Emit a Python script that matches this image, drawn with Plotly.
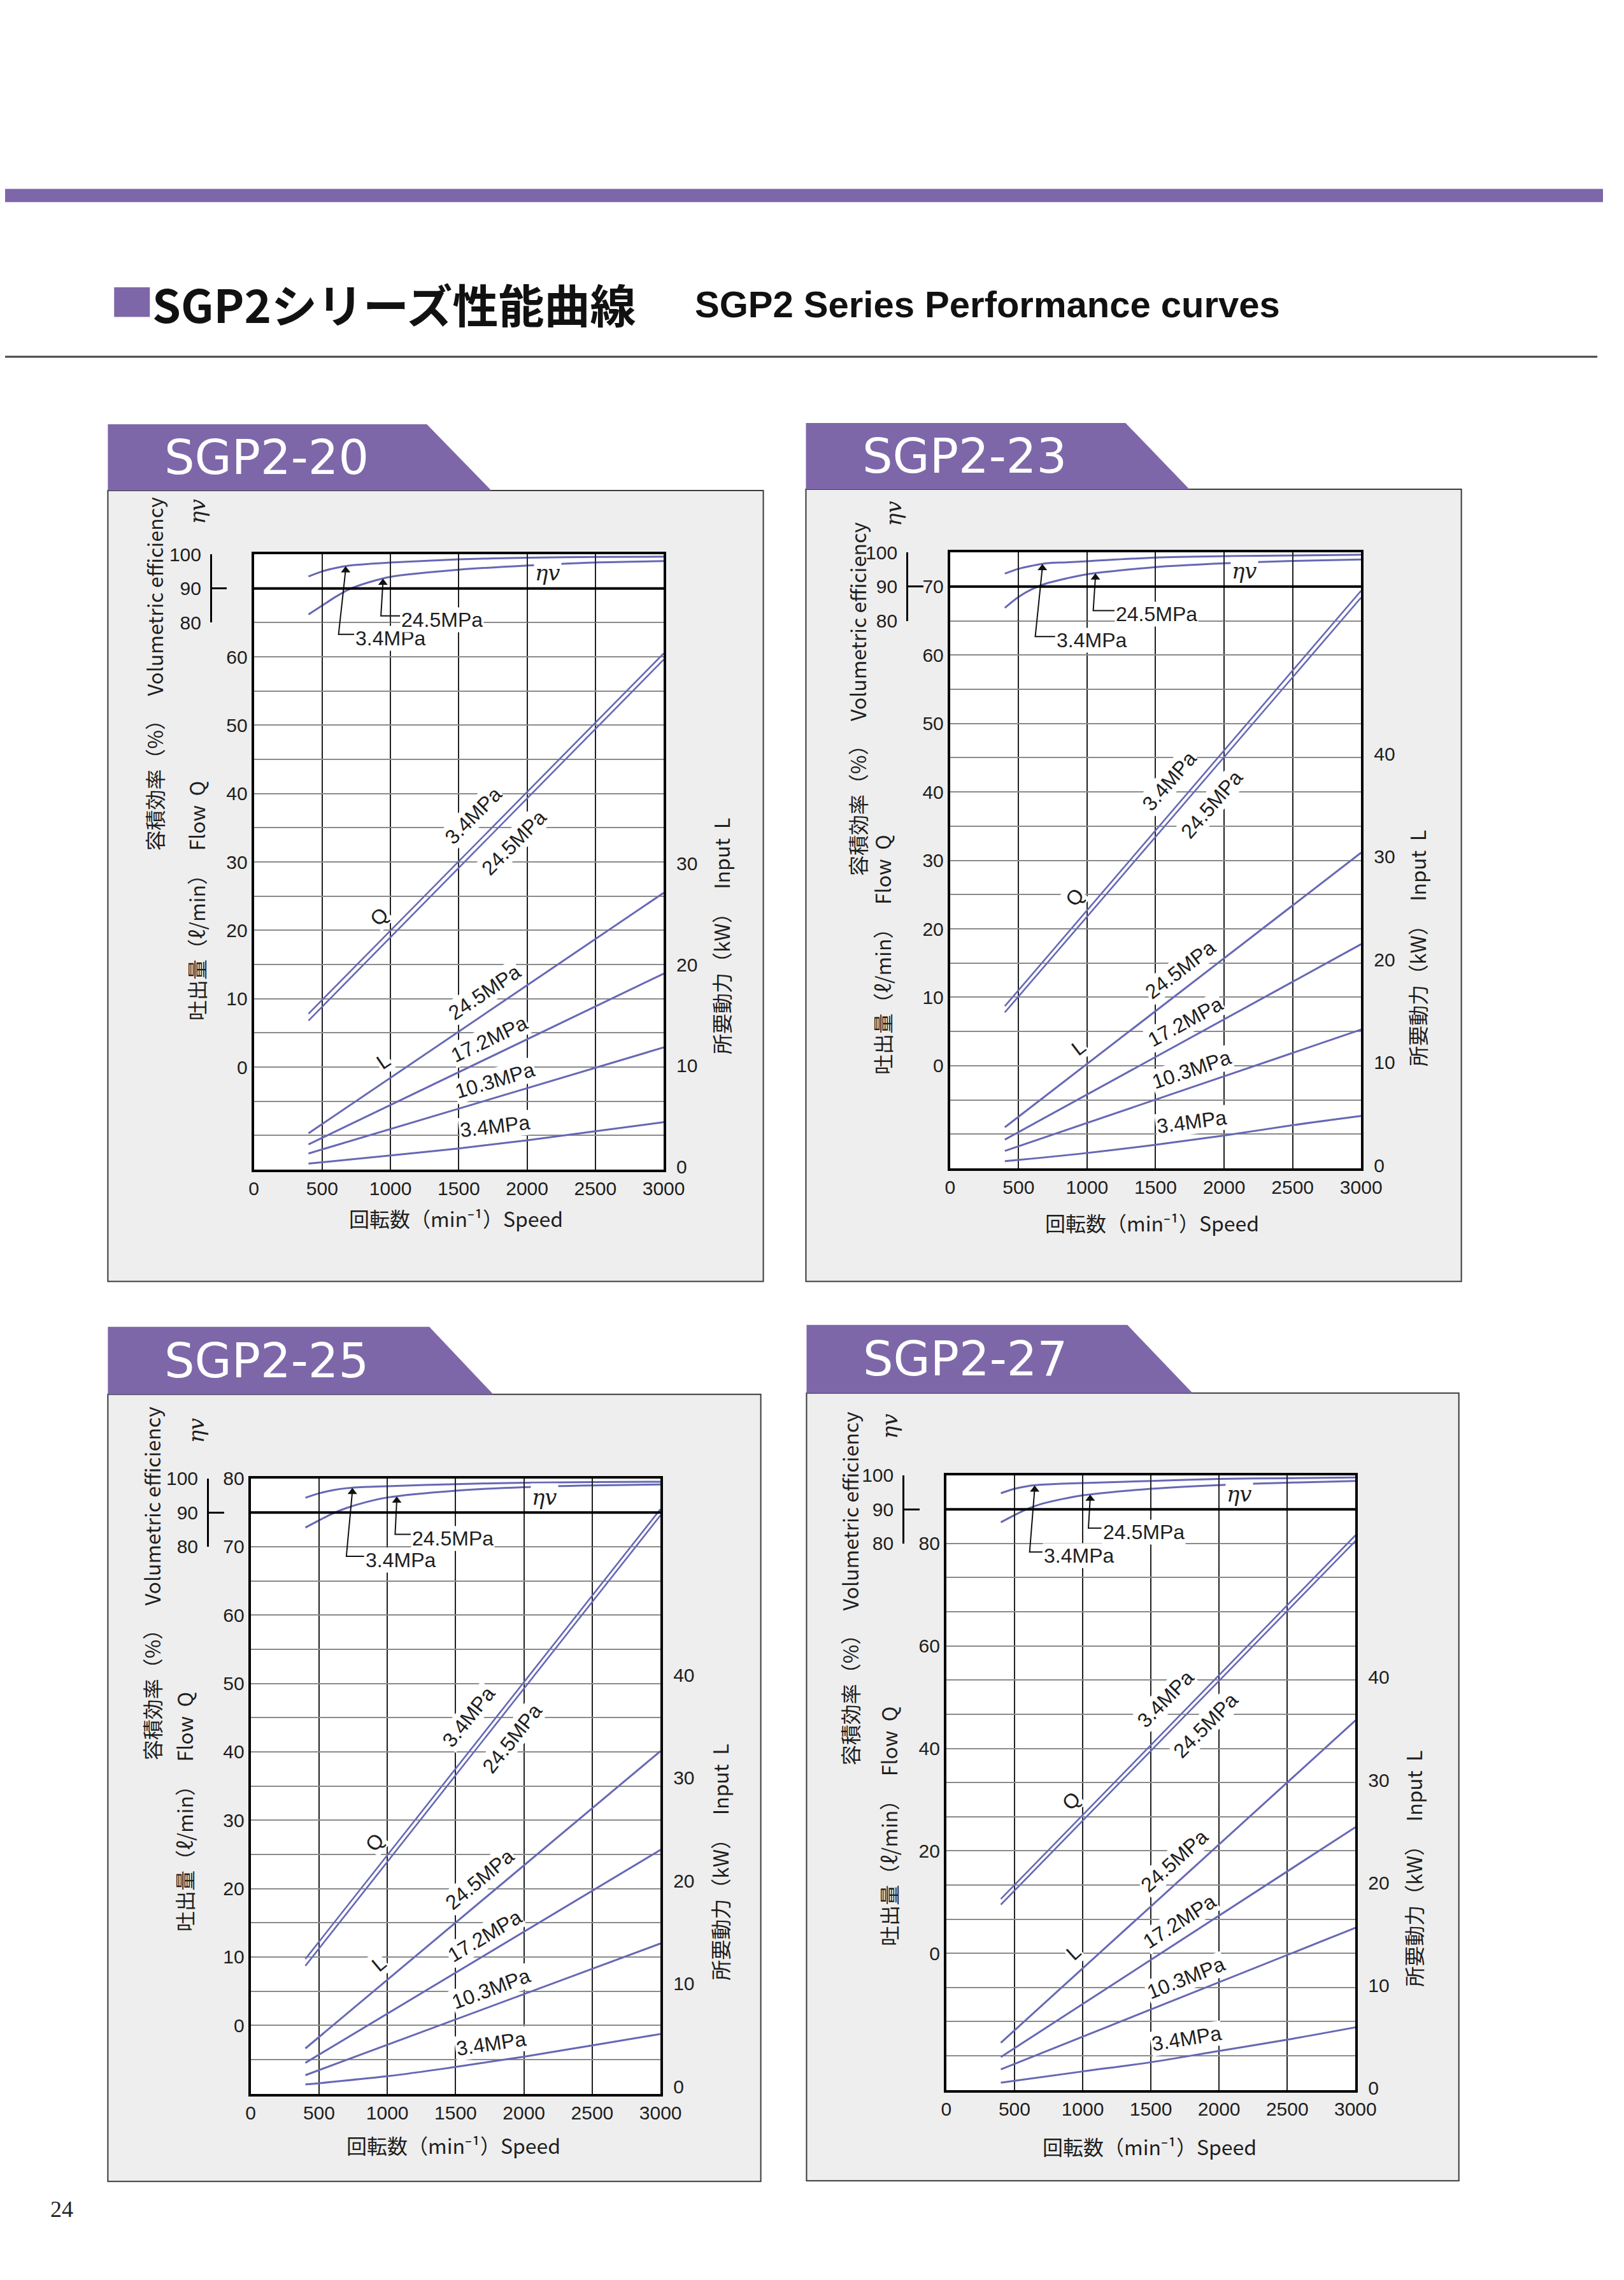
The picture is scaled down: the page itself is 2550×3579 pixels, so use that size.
import numpy as np
import plotly.graph_objects as go

W, H = 2550, 3579

# ---------------------------------------------------------------- data
MODELS = ["SGP2-20", "SGP2-23", "SGP2-25", "SGP2-27"]
SPEED_TICKS = [0, 500, 1000, 1500, 2000, 2500, 3000]
SPEED_LINE = [400, 3000]
SPEED_CURVE = [400, 1000, 1500, 2000, 2500, 3000]
SPEED_EFF = [400, 500, 600, 700, 850, 1000, 1500, 2000, 2500, 3000]
EFF_TICKS = [80, 90, 100]

# SGP2-20
flow_20_34 = [7.8, 60.5]
flow_20_245 = [6.8, 59.6]
power_20_245 = [3.3, 27.1]
power_20_172 = [2.2, 19.1]
power_20_103 = [1.3, 11.8]
power_20_34 = [0.3, 1.1, 1.8, 2.6, 3.5, 4.4]
eff_20_34 = [93.5, 95.0, 96.0, 96.7, 97.2, 97.6, 98.5, 99.0, 99.2, 99.3]
eff_20_245 = [82.4, 85.0, 87.6, 89.8, 91.9, 93.4, 95.5, 96.7, 97.6, 98.0]
flow_ticks_20 = [0, 10, 20, 30, 40, 50, 60]
power_ticks_20 = [0, 10, 20, 30]

# SGP2-23
flow_23_34 = [8.7, 69.4]
flow_23_245 = [7.8, 68.4]
power_23_245 = [3.7, 30.4]
power_23_172 = [2.5, 21.5]
power_23_103 = [1.4, 13.2]
power_23_34 = [0.4, 1.2, 2.0, 2.9, 3.9, 4.8]
eff_23_34 = [93.8, 95.2, 96.1, 96.8, 97.1, 97.4, 98.5, 98.9, 99.1, 99.3]
eff_23_245 = [83.8, 87.0, 89.3, 90.9, 92.4, 93.6, 95.7, 96.8, 97.5, 97.9]
flow_ticks_23 = [0, 10, 20, 30, 40, 50, 60, 70]
power_ticks_23 = [0, 10, 20, 30, 40]

# SGP2-25
flow_25_34 = [9.7, 75.5]
flow_25_245 = [8.7, 74.6]
power_25_245 = [3.7, 32.6]
power_25_172 = [2.3, 23.0]
power_25_103 = [1.1, 13.9]
power_25_34 = [0.2, 1.0, 1.9, 2.9, 4.0, 5.1]
eff_25_34 = [94.3, 95.6, 96.5, 97.1, 97.5, 97.7, 98.3, 98.7, 98.9, 99.0]
eff_25_245 = [85.6, 87.7, 89.7, 91.3, 93.1, 94.4, 96.4, 97.4, 97.9, 98.2]
flow_ticks_25 = [0, 10, 20, 30, 40, 50, 60, 70, 80]
power_ticks_25 = [0, 10, 20, 30, 40]

# SGP2-27
flow_27_34 = [10.6, 81.6]
flow_27_245 = [9.5, 80.5]
power_27_245 = [4.4, 35.8]
power_27_172 = [3.0, 25.4]
power_27_103 = [1.8, 15.6]
power_27_34 = [0.5, 1.6, 2.5, 3.6, 4.7, 5.9]
eff_27_34 = [94.7, 96.0, 96.8, 97.2, 97.5, 97.7, 98.3, 98.9, 99.1, 99.3]
eff_27_245 = [86.2, 88.3, 90.2, 91.6, 93.0, 94.1, 96.0, 97.1, 97.8, 98.3]
flow_ticks_27 = [0, 20, 40, 60, 80]
power_ticks_27 = [0, 10, 20, 30, 40]

DATA = [
    dict(flow34=flow_20_34, flow245=flow_20_245, p245=power_20_245, p172=power_20_172,
         p103=power_20_103, p34=power_20_34, e34=eff_20_34, e245=eff_20_245,
         fticks=flow_ticks_20, pticks=power_ticks_20),
    dict(flow34=flow_23_34, flow245=flow_23_245, p245=power_23_245, p172=power_23_172,
         p103=power_23_103, p34=power_23_34, e34=eff_23_34, e245=eff_23_245,
         fticks=flow_ticks_23, pticks=power_ticks_23),
    dict(flow34=flow_25_34, flow245=flow_25_245, p245=power_25_245, p172=power_25_172,
         p103=power_25_103, p34=power_25_34, e34=eff_25_34, e245=eff_25_245,
         fticks=flow_ticks_25, pticks=power_ticks_25),
    dict(flow34=flow_27_34, flow245=flow_27_245, p245=power_27_245, p172=power_27_172,
         p103=power_27_103, p34=power_27_34, e34=eff_27_34, e245=eff_27_245,
         fticks=flow_ticks_27, pticks=power_ticks_27),
]

# ---------------------------------------------------------------- layout config (pixels)
PANELS = [
    dict(box=(164, 760, 1210, 2013), tab=(164, 655, 673, 776), plot=(397, 861, 1051, 1836),
         frange=(-15, 75), fstep=5, prange=(-0.3, 60.6),
         colA=(238, 1050), colB=(305, 1410), eta=(307, 793), rt=(1143, 1466), xt=(720, 1913),
         ar34=(672, 620, 76.6, 735), ar245=(945, 930, 82.0, 1070)),
    dict(box=(1278, 758, 2324, 2013), tab=(1278, 653, 1788, 1890), plot=(1508, 858, 2164, 1834),
         frange=(-15, 75), fstep=5, prange=(-0.3, 59.6),
         colA=(1360, 1090), colB=(1400, 1495), eta=(1417, 796), rt=(2254, 1485), xt=(1830, 1920),
         ar34=(674, 622, 75.4, 767), ar245=(1061, 1045, 83.0, 1200)),
    dict(box=(164, 2192, 1206, 3439), tab=(164, 2085, 677, 779), plot=(392, 2325, 1046, 3300),
         frange=(-10, 80), fstep=5, prange=(-0.7, 59.1),
         colA=(234, 2491), colB=(285, 2853), eta=(305, 2249), rt=(1140, 2933), xt=(716, 3381),
         ar34=(744, 700, 77.2, 830), ar245=(1069, 1057, 83.6, 1171)),
    dict(box=(1279, 2190, 2320, 3438), tab=(1279, 2082, 1791, 1895), plot=(1502, 2320, 2155, 3294),
         frange=(-80 / 3, 280 / 3), fstep=20 / 3, prange=(-0.2, 59.7),
         colA=(1348, 2499), colB=(1410, 2876), eta=(1412, 2242), rt=(2247, 2943), xt=(1826, 3383),
         ar34=(648, 611, 77.5, 705), ar245=(1055, 1042, 84.5, 1138)),
]
EFF_RANGE = (-80, 100)

PURPLE = "#7d67a9"
CURVE = "#6668b4"
INK = "#1e1e1e"
NUM_FAMILY = "Liberation Sans Narrow, Liberation Sans, Arial, sans-serif"
TICK_FONT = dict(family=NUM_FAMILY, size=30, color=INK)
LABEL_FONT = dict(family=NUM_FAMILY, size=32, color=INK)
CJK_FONT = dict(family="Noto Sans CJK JP, Noto Sans, sans-serif", size=32, color=INK)
ETA_FONT = dict(family="DejaVu Serif, Liberation Serif, serif", size=34, color=INK, style="italic")


def fx(px):
    return px / W


def fy(py):
    return 1 - py / H


def aref(kind, n):
    return kind if n == 1 else f"{kind}{n}"


def aname(kind, n):
    return f"{kind}axis" if n == 1 else f"{kind}axis{n}"


fig = go.Figure()
lay = {}
annotations = []
shapes = []

# ---------------------------------------------------------------- page header
shapes.append(dict(type="rect", xref="paper", yref="paper", x0=0, x1=1, y0=fy(303), y1=fy(282),
                   fillcolor=PURPLE, line=dict(width=0), layer="below"))
shapes.append(dict(type="rect", xref="paper", yref="paper", x0=fx(174), x1=fx(231), y0=fy(485), y1=fy(438),
                   fillcolor=PURPLE, line=dict(width=0), layer="below"))
shapes.append(dict(type="line", xref="paper", yref="paper", x0=0, x1=fx(2541), y0=fy(548), y1=fy(548),
                   line=dict(color="#444", width=3), layer="below"))
annotations.append(dict(text="SGP2シリーズ性能曲線", xref="paper", yref="paper", x=fx(233), y=fy(463),
                        xanchor="left", yanchor="middle", showarrow=False,
                        font=dict(family="Noto Sans CJK JP, sans-serif", size=72, color="#111",
                                  weight="bold")))
annotations.append(dict(text="SGP2 Series Performance curves", xref="paper", yref="paper",
                        x=fx(1099), y=fy(465), xanchor="left", yanchor="middle", showarrow=False,
                        font=dict(family="Liberation Sans, Arial, sans-serif", size=58, color="#111",
                                  weight="bold")))
annotations.append(dict(text="24", xref="paper", yref="paper", x=fx(90), y=fy(3483), xanchor="center",
                        yanchor="middle", showarrow=False,
                        font=dict(family="Liberation Serif, DejaVu Serif, serif", size=36, color="#222")))


def line_label(text, xr, yr, speeds, values, rpm, dist, ppx, ppy, font=LABEL_FONT):
    y = float(np.interp(rpm, speeds, values))
    y1 = float(np.interp(rpm + 100, speeds, values))
    y0 = float(np.interp(rpm - 100, speeds, values))
    th = np.arctan2((y1 - y0) * ppy, 200 * ppx)
    return dict(text=text, x=rpm, y=y, xref=xr, yref=yr, showarrow=False,
                textangle=-float(np.degrees(th)), xanchor="center", yanchor="middle",
                xshift=-float(np.sin(th)) * dist, yshift=float(np.cos(th)) * dist,
                font=font, bgcolor="white", borderpad=1)


for k, (model, d, P) in enumerate(zip(MODELS, DATA, PANELS)):
    xn = k + 1
    yfn, ypn, yen, ybn = 4 * k + 1, 4 * k + 2, 4 * k + 3, 4 * k + 4
    xr, yfr, ypr, yer, ybr = aref("x", xn), aref("y", yfn), aref("y", ypn), aref("y", yen), aref("y", ybn)
    pl, pt, pr, pb = P["plot"]
    bl, bt, br, bb = P["box"]
    tl, tt, ttr, tbr = P["tab"]

    # panel background, tab and white plotting area
    shapes.append(dict(type="rect", xref="paper", yref="paper", x0=fx(bl), x1=fx(br), y0=fy(bb), y1=fy(bt),
                       fillcolor="#eeeeee", line=dict(color="#3a3a3a", width=2), layer="below"))
    shapes.append(dict(type="path", xref="paper", yref="paper",
                       path=f"M {fx(tl)},{fy(tt)} L {fx(ttr)},{fy(tt)} L {fx(tbr)},{fy(bt)} L {fx(tl)},{fy(bt)} Z",
                       fillcolor=PURPLE, line=dict(width=0), layer="below"))
    shapes.append(dict(type="rect", xref="paper", yref="paper", x0=fx(pl), x1=fx(pr), y0=fy(pb), y1=fy(pt),
                       fillcolor="white", line=dict(width=0), layer="below"))
    annotations.append(dict(text=model, xref="paper", yref="paper", x=fx(tl + 88), y=fy((tt + bt) / 2),
                            xanchor="left", yanchor="middle", showarrow=False,
                            font=dict(family="DejaVu Sans, sans-serif", size=75, color="white")))

    # axes
    f0, f1 = P["frange"]
    grid = []
    v = f0 + P["fstep"]
    while v < f1 - 1e-6:
        grid.append(round(v, 4))
        v += P["fstep"]
    labels = {round(t, 4): str(t) for t in d["fticks"]}
    tickvals = sorted(set(grid) | set(labels))
    ticktext = [labels.get(t, "") for t in tickvals]

    lay[aname("x", xn)] = dict(domain=[fx(pl), fx(pr)], range=[0, 3000], anchor=yfr,
                               tickvals=SPEED_TICKS, ticks="", showgrid=True, gridcolor="#202020",
                               gridwidth=2, showline=True, linecolor="black", linewidth=4, mirror=True,
                               zeroline=False, tickfont=TICK_FONT, ticklabelstandoff=0, fixedrange=True)
    lay[aname("y", yfn)] = dict(domain=[fy(pb), fy(pt)], range=[f0, f1], anchor=xr,
                                tickvals=tickvals, ticktext=ticktext, ticks="", showgrid=True,
                                gridcolor="#8a8a8a", gridwidth=2, showline=True, linecolor="black",
                                linewidth=4, zeroline=False, tickfont=TICK_FONT, ticklabelstandoff=0,
                                fixedrange=True)
    lay[aname("y", ypn)] = dict(overlaying=yfr, side="right", anchor=xr, range=list(P["prange"]),
                                tickvals=d["pticks"], ticks="", showgrid=False, showline=True,
                                linecolor="black", linewidth=4, zeroline=False, tickfont=TICK_FONT,
                                ticklabelstandoff=10, fixedrange=True)
    lay[aname("y", yen)] = dict(overlaying=yfr, anchor=xr, range=list(EFF_RANGE), showticklabels=False,
                                showgrid=False, showline=False, zeroline=False, ticks="",
                                fixedrange=True)
    frac80 = (80 - EFF_RANGE[0]) / (EFF_RANGE[1] - EFF_RANGE[0])
    lay[aname("y", ybn)] = dict(domain=[fy(pb) + (fy(pt) - fy(pb)) * frac80, fy(pt)], range=[80, 100],
                                anchor="free", position=fx(pl - 69), side="left", tickvals=EFF_TICKS,
                                ticks="inside", ticklen=24, tickwidth=2.5, tickcolor="black",
                                showline=True, linecolor="black", linewidth=2.5, showgrid=False,
                                zeroline=False, tickfont=TICK_FONT, ticklabelstandoff=8, fixedrange=True)

    # thick 90 % efficiency line
    shapes.append(dict(type="line", xref=f"{xr} domain", yref=yer, x0=0, x1=1, y0=90, y1=90,
                       line=dict(color="black", width=4)))

    # traces
    fig.add_trace(go.Scatter(x=[None], y=[None], xaxis=xr, yaxis=ybr, showlegend=False, hoverinfo="skip"))
    for key in ("flow34", "flow245"):
        fig.add_trace(go.Scatter(x=SPEED_LINE, y=d[key], xaxis=xr, yaxis=yfr, mode="lines",
                                 line=dict(color=CURVE, width=2.6), showlegend=False, hoverinfo="skip"))
    for key in ("p245", "p172", "p103"):
        fig.add_trace(go.Scatter(x=SPEED_LINE, y=d[key], xaxis=xr, yaxis=ypr, mode="lines",
                                 line=dict(color=CURVE, width=3), showlegend=False, hoverinfo="skip"))
    fig.add_trace(go.Scatter(x=SPEED_CURVE, y=d["p34"], xaxis=xr, yaxis=ypr, mode="lines",
                             line=dict(color=CURVE, width=3, shape="spline"), showlegend=False,
                             hoverinfo="skip"))
    for key in ("e34", "e245"):
        fig.add_trace(go.Scatter(x=SPEED_EFF, y=d[key], xaxis=xr, yaxis=yer, mode="lines",
                                 line=dict(color=CURVE, width=3, shape="spline", smoothing=0.8),
                                 showlegend=False, hoverinfo="skip"))

    # curve labels
    ppx = (pr - pl) / 3000.0
    ppf = (pb - pt) / (f1 - f0)
    ppp = (pb - pt) / (P["prange"][1] - P["prange"][0])
    annotations.append(line_label("3.4MPa", xr, yfr, SPEED_LINE, d["flow34"], 1720, 34, ppx, ppf))
    annotations.append(line_label("24.5MPa", xr, yfr, SPEED_LINE, d["flow245"], 1790, -34, ppx, ppf))
    annotations.append(line_label("Q", xr, yfr, SPEED_LINE, d["flow34"], 1010, 28, ppx, ppf))
    annotations.append(line_label("L", xr, ypr, SPEED_LINE, d["p245"], 1020, 28, ppx, ppp))
    annotations.append(line_label("24.5MPa", xr, ypr, SPEED_LINE, d["p245"], 1760, 28, ppx, ppp))
    annotations.append(line_label("17.2MPa", xr, ypr, SPEED_LINE, d["p172"], 1775, 26, ppx, ppp))
    annotations.append(line_label("10.3MPa", xr, ypr, SPEED_LINE, d["p103"], 1800, 26, ppx, ppp))
    annotations.append(line_label("3.4MPa", xr, ypr, SPEED_CURVE, d["p34"], 1780, 28, ppx, ppp))

    # efficiency leaders with arrowheads
    for key, txt, (tip, cx, cy, tx) in (("e34", "3.4MPa", P["ar34"]), ("e245", "24.5MPa", P["ar245"])):
        ty = float(np.interp(tip, SPEED_EFF, d[key]))
        fig.add_trace(go.Scatter(x=[tip, cx, tx], y=[ty - 1.0, cy, cy], xaxis=xr, yaxis=yer, mode="lines",
                                 line=dict(color="#111", width=2), showlegend=False, hoverinfo="skip"))
        fig.add_trace(go.Scatter(x=[tip], y=[ty - 1.2], xaxis=xr, yaxis=yer, mode="markers",
                                 marker=dict(symbol="triangle-up", size=13, color="#111",
                                             line=dict(width=0)),
                                 showlegend=False, hoverinfo="skip"))
        annotations.append(dict(text=txt, x=tx, y=cy, xref=xr, yref=yer, xanchor="left", yanchor="middle",
                                yshift=-6, showarrow=False, font=LABEL_FONT, bgcolor="white", borderpad=1))
    annotations.append(dict(text="ηv", x=2150, y=94.6, xref=xr, yref=yer, showarrow=False,
                            font=ETA_FONT, bgcolor="white"))

    # axis titles
    sp = "\u00a0\u00a0\u00a0"
    annotations.append(dict(text="容積効率（%）" + sp + "Volumetric efficiency", xref="paper", yref="paper",
                            x=fx(P["colA"][0]), y=fy(P["colA"][1]), textangle=-90, xanchor="center",
                            yanchor="middle", showarrow=False, font=CJK_FONT))
    annotations.append(dict(text="吐出量（ℓ/min）" + sp + "Flow\u00a0\u00a0Q", xref="paper", yref="paper",
                            x=fx(P["colB"][0]), y=fy(P["colB"][1]), textangle=-90, xanchor="center",
                            yanchor="middle", showarrow=False, font=CJK_FONT))
    annotations.append(dict(text="ηv", xref="paper", yref="paper", x=fx(P["eta"][0]),
                            y=fy(P["eta"][1]), textangle=-90, xanchor="center", yanchor="middle",
                            showarrow=False, font=ETA_FONT))
    annotations.append(dict(text="所要動力（kW）" + sp + "Input\u00a0\u00a0L", xref="paper", yref="paper",
                            x=fx(P["rt"][0]), y=fy(P["rt"][1]), textangle=-90, xanchor="center",
                            yanchor="middle", showarrow=False, font=CJK_FONT))
    annotations.append(dict(text="回転数（min⁻¹）Speed", xref="paper", yref="paper",
                            x=fx(P["xt"][0]), y=fy(P["xt"][1]), xanchor="center", yanchor="middle",
                            showarrow=False, font=CJK_FONT))

fig.update_layout(
    width=W, height=H, margin=dict(l=0, r=0, t=0, b=0, pad=0),
    paper_bgcolor="white", plot_bgcolor="rgba(0,0,0,0)", showlegend=False,
    annotations=annotations, shapes=shapes, **lay,
)
fig.write_html("out.html", config={"displayModeBar": False})
